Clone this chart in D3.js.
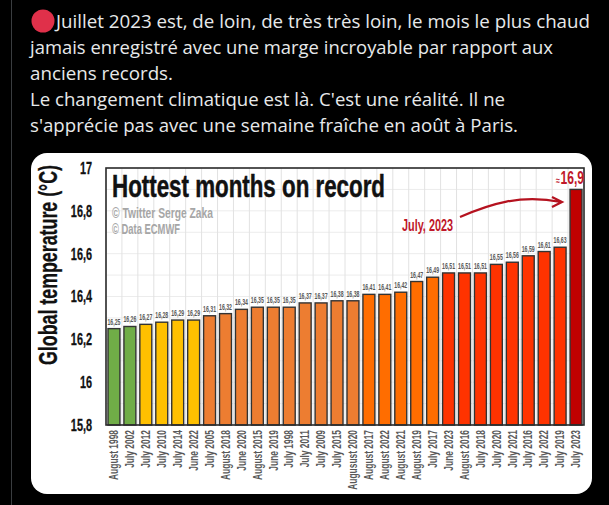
<!DOCTYPE html>
<html>
<head>
<meta charset="utf-8">
<script src="https://cdn.jsdelivr.net/npm/d3@7"></script>
<style>
html, body { margin: 0; background: #000; }
svg { display: block; }
</style>
</head>
<body>
<svg id="chart" width="609" height="505"></svg>
<script>
var months = ['August 1998','July 2002','July 2012','July 2010','July 2014','June 2022','July 2005','August 2018',
              'June 2020','August 2015','June 2019','July 1998','July 2011','July 2009','July 2015','Augusust 2020',
              'August 2017','August 2022','August 2021','August 2019','July 2017','June 2023','August 2016','July 2018',
              'July 2020','July 2021','July 2016','July 2022','July 2019','July 2023'];
var temps = [16.25,16.26,16.27,16.28,16.29,16.29,16.31,16.32,16.34,16.35,16.35,16.35,16.37,16.37,16.38,16.38,
             16.41,16.41,16.42,16.47,16.49,16.51,16.51,16.51,16.55,16.56,16.59,16.61,16.63,16.9];
var tempTicks = [15.8,16,16.2,16.4,16.6,16.8,17];
var gridTicks = [15.9,16.1,16.3,16.5,16.7,16.9];
var tiers = [0,0,1,1,1,1,2,2,2,2,2,2,2,2,2,2,3,3,3,3,3,4,4,4,4,4,4,4,4,5];
var tierColors = ['#70ad47','#ffc000','#ed7d31','#ff6d00','#ff3300','#c00000'];
var tweet = ['Juillet 2023 est, de loin, de très très loin, le mois le plus chaud',
             'jamais enregistré avec une marge incroyable par rapport aux',
             'anciens records.',
             'Le changement climatique est là. C\'est une réalité. Il ne',
             's\'apprécie pas avec une semaine fraîche en août à Paris.'];
var tweetWidths = [534, 523, 143, 475, 488];

var narrow = '"Liberation Sans Narrow", sans-serif';
var svg = d3.select('#chart');

// squeeze text horizontally, none of the installed fonts is as condensed as the original
function squeeze(sel, k) {
  sel.each(function() {
    d3.select(this)
      .attr('textLength', this.getComputedTextLength() * k)
      .attr('lengthAdjust', 'spacingAndGlyphs');
  });
}

// tweet text
svg.append('line').attr('x1', 11.5).attr('x2', 11.5).attr('y1', 0).attr('y2', 505)
   .attr('stroke', '#3a3d40');
svg.append('circle').attr('cx', 43).attr('cy', 21).attr('r', 11.5).attr('fill', '#e0304a');

svg.selectAll('.tweet').data(tweet).enter().append('text')
    .attr('class', 'tweet')
    .attr('x', function(d, i) { return i === 0 ? 56 : 30; })
    .attr('y', function(d, i) { return 28 + i * 26; })
    .attr('fill', '#e7e9ea')
    .attr('font-family', '"Open Sans", sans-serif')
    .attr('font-size', 18.5)
    .attr('textLength', function(d, i) { return tweetWidths[i]; })
    .attr('lengthAdjust', 'spacingAndGlyphs')
    .text(function(d) { return d; });

// white card
svg.append('rect').attr('x', 31).attr('y', 153).attr('width', 561).attr('height', 341)
   .attr('rx', 16).attr('fill', '#fff');

var x = d3.scaleBand().domain(d3.range(months.length)).range([106, 584]).paddingInner(0.25).paddingOuter(0.125);
var y = d3.scaleLinear().domain([15.8, 17]).range([425, 168]);

// grid
svg.append('g').selectAll('line').data(tempTicks.concat(gridTicks)).enter().append('line')
   .attr('x1', 106).attr('x2', 584)
   .attr('y1', function(d) { return y(d); })
   .attr('y2', function(d) { return y(d); })
   .attr('stroke', '#ececec');
svg.append('g').selectAll('line').data(d3.range(months.length + 1)).enter().append('line')
   .attr('x1', function(d) { return 106 + d * x.step(); })
   .attr('x2', function(d) { return 106 + d * x.step(); })
   .attr('y1', 168).attr('y2', 425)
   .attr('stroke', '#e2e2e2');

// bars
svg.append('g').selectAll('rect').data(temps).enter().append('rect')
   .attr('x', function(d, i) { return x(i); })
   .attr('y', function(d) { return y(d); })
   .attr('width', x.bandwidth())
   .attr('height', function(d) { return y(15.8) - y(d); })
   .attr('fill', function(d, i) { return tierColors[tiers[i]]; })
   .attr('stroke', '#333')
   .attr('stroke-width', 1.4);

// value labels, the last one is drawn larger in red below
svg.append('g').selectAll('text').data(temps.slice(0, -1)).enter().append('text')
   .attr('x', function(d, i) { return x(i) + x.bandwidth() / 2; })
   .attr('y', function(d) { return y(d) - 4; })
   .attr('text-anchor', 'middle')
   .attr('fill', '#595959')
   .attr('font-family', narrow)
   .attr('font-weight', 'bold')
   .attr('font-size', 9.5)
   .attr('textLength', 13)
   .attr('lengthAdjust', 'spacingAndGlyphs')
   .text(function(d) { return String(d).replace('.', ','); });

// frame
svg.append('rect').attr('x', 106).attr('y', 168).attr('width', 478).attr('height', 257)
   .attr('fill', 'none').attr('stroke', '#2b2b2b').attr('stroke-width', 1.6);

// axes
var yAxis = svg.append('g').attr('transform', 'translate(92,0)')
   .call(d3.axisLeft(y).tickValues(tempTicks).tickSize(0).tickPadding(0)
           .tickFormat(function(d) { return String(d).replace('.', ','); }));
yAxis.select('.domain').remove();
yAxis.selectAll('text')
   .attr('fill', '#111')
   .attr('stroke', '#111')
   .attr('stroke-width', 0.3)
   .attr('font-family', narrow)
   .attr('font-weight', 'bold')
   .attr('font-size', 17);
squeeze(yAxis.selectAll('text'), 0.64);

var xAxis = svg.append('g').attr('transform', 'translate(0,425)')
   .call(d3.axisBottom(x).tickSize(0).tickFormat(function(i) { return months[i]; }));
xAxis.select('.domain').remove();
xAxis.selectAll('text')
   .attr('transform', 'rotate(-90)')
   .attr('x', -5)
   .attr('y', 0)
   .attr('dy', '0.35em')
   .attr('text-anchor', 'end')
   .attr('fill', '#595959')
   .attr('font-family', narrow)
   .attr('font-weight', 'bold')
   .attr('font-size', 12);
squeeze(xAxis.selectAll('text'), 0.7);

svg.append('text')
   .attr('transform', 'translate(57,365) rotate(-90)')
   .attr('fill', '#111')
   .attr('stroke', '#111')
   .attr('stroke-width', 0.3)
   .attr('font-family', narrow)
   .attr('font-weight', 'bold')
   .attr('font-size', 25)
   .attr('textLength', 200)
   .attr('lengthAdjust', 'spacingAndGlyphs')
   .text('Global temperature (°C)');

// title and credits
svg.append('text').attr('x', 112).attr('y', 197)
   .attr('fill', '#111').attr('stroke', '#111').attr('stroke-width', 0.5)
   .attr('font-family', narrow).attr('font-weight', 'bold').attr('font-size', 31)
   .attr('textLength', 273).attr('lengthAdjust', 'spacingAndGlyphs')
   .text('Hottest months on record');
svg.append('text').attr('x', 112).attr('y', 218)
   .attr('fill', '#a6a6a6').attr('font-family', narrow).attr('font-weight', 'bold').attr('font-size', 15)
   .attr('textLength', 101).attr('lengthAdjust', 'spacingAndGlyphs')
   .text('© Twitter Serge Zaka');
svg.append('text').attr('x', 112).attr('y', 234)
   .attr('fill', '#a6a6a6').attr('font-family', narrow).attr('font-weight', 'bold').attr('font-size', 15)
   .attr('textLength', 68).attr('lengthAdjust', 'spacingAndGlyphs')
   .text('© Data ECMWF');

// annotation
svg.append('text').attr('x', 402).attr('y', 231)
   .attr('fill', '#c0182a').attr('font-family', narrow).attr('font-weight', 'bold').attr('font-size', 17)
   .attr('textLength', 51).attr('lengthAdjust', 'spacingAndGlyphs')
   .text('July, 2023');
var peak = svg.append('text').attr('x', 556).attr('y', 184)
   .attr('fill', '#c0182a').attr('font-family', narrow).attr('font-weight', 'bold').attr('font-size', 17.5);
peak.append('tspan').attr('font-size', 10).text('≈');
peak.append('tspan').attr('dx', 1).text('16,9');
peak.attr('textLength', 28).attr('lengthAdjust', 'spacingAndGlyphs');
svg.append('path')
   .attr('d', 'M460,217 C490,204 520,194 561,202 M552,197 L562,202 L552,207')
   .attr('fill', 'none').attr('stroke', '#b5121f').attr('stroke-width', 2.2);
</script>
</body>
</html>
